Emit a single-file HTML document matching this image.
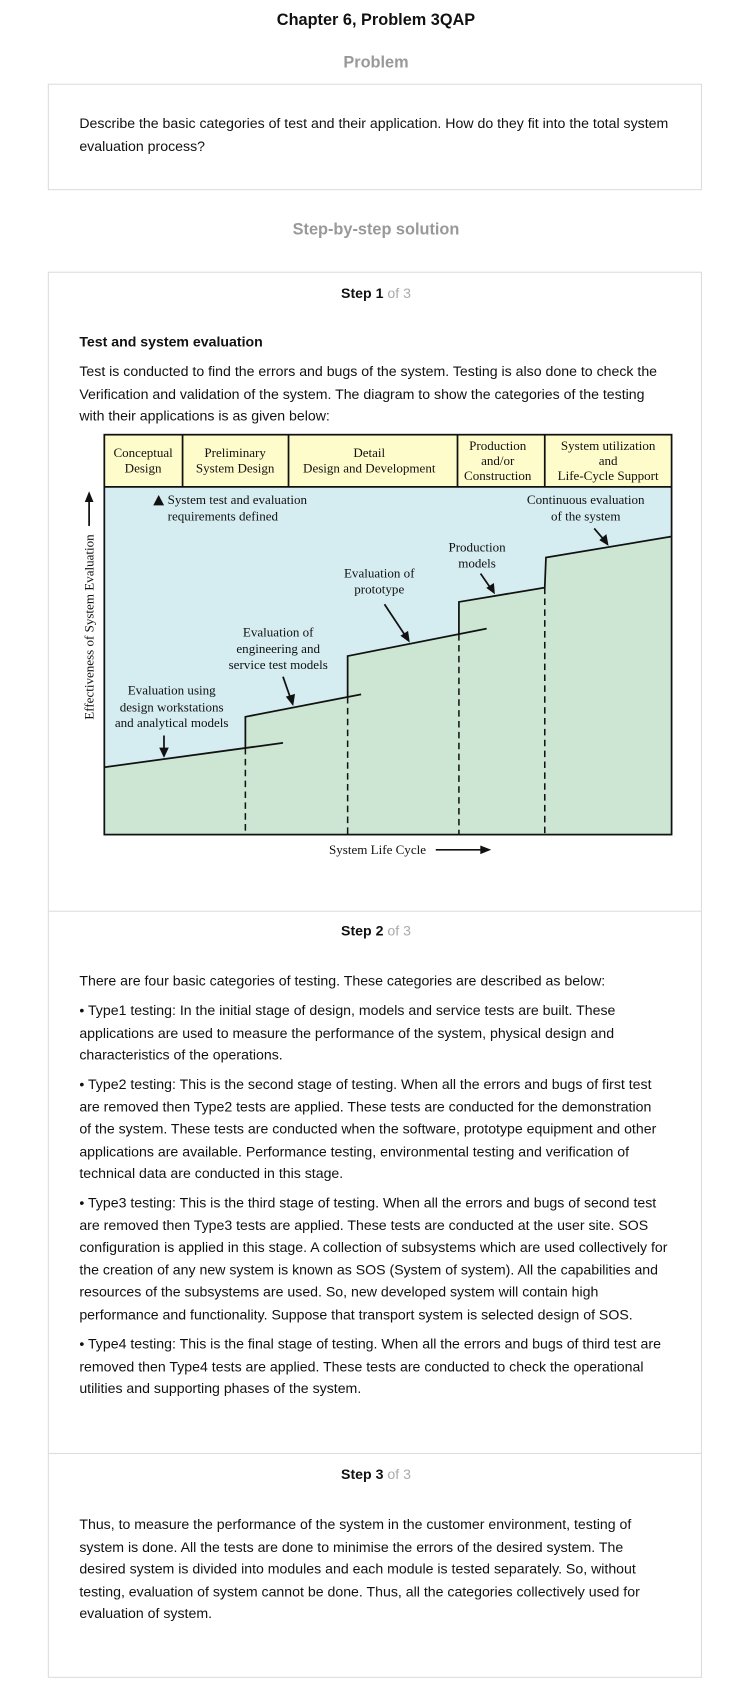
<!DOCTYPE html>
<html><head><meta charset="utf-8">
<style>
html,body{margin:0;padding:0;background:#fff;}
body{width:752px;height:1705px;overflow:hidden;}
#w{position:absolute;left:0;top:0;width:692px;height:1569px;transform:scale(1.08671);transform-origin:0 0;font-family:"Liberation Sans",sans-serif;color:#111;}
.a{position:absolute;white-space:nowrap;}
.c{text-align:center;left:0;width:692px;}
.box{position:absolute;border:1px solid #ddd;box-sizing:border-box;}
.t{font-size:13px;line-height:20.5px;left:73px;}
.hr{position:absolute;left:44px;width:602px;height:1px;background:#ddd;}
.g{color:#aaa;font-weight:normal;}
</style></head><body><div id="w">
<div class="a c" style="top:10px;font-size:15px;font-weight:bold;">Chapter 6, Problem 3QAP</div>
<div class="a c" style="top:49px;font-size:15px;font-weight:bold;color:#999;">Problem</div>
<div class="box" style="left:44px;top:77px;width:602px;height:98px;"></div>
<div class="a t" style="top:103px;line-height:21px;">Describe the basic categories of test and their application. How do they fit into the total system<br>evaluation process?</div>
<div class="a c" style="top:203px;font-size:15px;font-weight:bold;color:#999;">Step-by-step solution</div>
<div class="box" style="left:44px;top:250px;width:602px;height:1294px;"></div>
<div class="hr" style="top:838px;"></div>
<div class="hr" style="top:1337px;"></div>
<div class="a c" style="top:262px;font-size:13px;font-weight:bold;">Step 1 <span class="g">of 3</span></div>
<div class="a t" style="top:305px;font-weight:bold;">Test and system evaluation</div>
<div class="a t" style="top:332px;">Test is conducted to find the errors and bugs of the system. Testing is also done to check the<br>Verification and validation of the system. The diagram to show the categories of the testing<br>with their applications is as given below:</div>

<svg class="a" style="left:0;top:0;" width="692" height="820" viewBox="0 0 692 820" font-family="Liberation Serif, serif" font-size="12" fill="#111">
<rect x="96" y="400" width="522" height="48" fill="#fffccc"/>
<rect x="96" y="448" width="522" height="320" fill="#d5ecf0"/>
<polygon points="96,768 96,706 225.8,688.3 225.8,659.6 319.9,641.4 319.9,603.7 422.3,583.5 422.3,553.9 501.3,540.7 502.4,513 618,493.7 618,768" fill="#cde6d4"/>
<g stroke="#111" stroke-width="1.6" fill="none">
<rect x="96" y="400" width="522" height="368"/>
<line x1="96" y1="448" x2="618" y2="448"/>
<line x1="168" y1="400" x2="168" y2="448"/>
<line x1="265.5" y1="400" x2="265.5" y2="448"/>
<line x1="421" y1="400" x2="421" y2="448"/>
<line x1="501.3" y1="400" x2="501.3" y2="448"/>
<line x1="96" y1="706" x2="260.4" y2="683.6"/>
<polyline points="225.8,688.3 225.8,659.6 332.3,639"/>
<polyline points="319.9,641.4 319.9,603.7 447.8,578.5"/>
<polyline points="422.3,583.5 422.3,553.9 501.3,540.7 502.4,513 618,493.7"/>
<g stroke-dasharray="6,4" stroke-width="1.4">
<line x1="225.8" y1="688.3" x2="225.8" y2="768"/>
<line x1="319.9" y1="641.4" x2="319.9" y2="768"/>
<line x1="422.3" y1="583.5" x2="422.3" y2="768"/>
<line x1="501.3" y1="540.7" x2="501.3" y2="768"/>
</g>
<line x1="150.9" y1="676.8" x2="150.9" y2="690"/>
<line x1="260.4" y1="622.7" x2="267.5" y2="643"/>
<line x1="353.8" y1="556" x2="373" y2="585"/>
<line x1="442.2" y1="527.8" x2="452" y2="542"/>
<line x1="546.8" y1="486.3" x2="556" y2="497"/>
<line x1="82" y1="484" x2="82" y2="460"/>
<line x1="401" y1="782" x2="444" y2="782"/>
</g>
<g fill="#111">
<polygon points="150.9,697.4 146.5,688 155.3,688"/>
<polygon points="269.8,649.7 263,641 271.5,638.5"/>
<polygon points="377.1,591.4 368.5,585 375.5,580.5"/>
<polygon points="455.4,546.8 447.5,541 454.5,536.5"/>
<polygon points="560,502.3 551.5,497 558,491.5"/>
<polygon points="82,452 78,462 86,462"/>
<polygon points="452,782 442,778 442,786"/>
<polygon points="141,465 151,465 146,455.5"/>
</g>
<g text-anchor="middle">
<text x="131.7" y="420.6">Conceptual</text><text x="131.7" y="434.7">Design</text>
<text x="216.4" y="420.6">Preliminary</text><text x="216.4" y="434.7">System Design</text>
<text x="339.8" y="420.6">Detail</text><text x="339.8" y="434.7">Design and Development</text>
<text x="458" y="414">Production</text><text x="458" y="428">and/or</text><text x="458" y="441.8">Construction</text>
<text x="559.6" y="414">System utilization</text><text x="559.6" y="428">and</text><text x="559.6" y="441.8">Life-Cycle Support</text>
<text x="539" y="464">Continuous evaluation</text><text x="539" y="479">of the system</text>
<text x="439" y="507.5">Production</text><text x="439" y="522.3">models</text>
<text x="349" y="531.5">Evaluation of</text><text x="349" y="546">prototype</text>
<text x="256" y="585.6">Evaluation of</text><text x="256" y="601">engineering and</text><text x="256" y="615.7">service test models</text>
<text x="158" y="639">Evaluation using</text><text x="158" y="654.5">design workstations</text><text x="158" y="669">and analytical models</text>
<text x="347.4" y="785.8">System Life Cycle</text>
<text transform="translate(86,577) rotate(-90)">Effectiveness of System Evaluation</text>
</g>
<text x="154.3" y="464">System test and evaluation</text>
<text x="154.3" y="479">requirements defined</text>
</svg>

<div class="a c" style="top:849px;font-size:13px;font-weight:bold;">Step 2 <span class="g">of 3</span></div>
<div class="a t" style="top:893px;">There are four basic categories of testing. These categories are described as below:</div>
<div class="a t" style="top:920px;">• Type1 testing: In the initial stage of design, models and service tests are built. These<br>applications are used to measure the performance of the system, physical design and<br>characteristics of the operations.</div>
<div class="a t" style="top:988px;">• Type2 testing: This is the second stage of testing. When all the errors and bugs of first test<br>are removed then Type2 tests are applied. These tests are conducted for the demonstration<br>of the system. These tests are conducted when the software, prototype equipment and other<br>applications are available. Performance testing, environmental testing and verification of<br>technical data are conducted in this stage.</div>
<div class="a t" style="top:1097px;">• Type3 testing: This is the third stage of testing. When all the errors and bugs of second test<br>are removed then Type3 tests are applied. These tests are conducted at the user site. SOS<br>configuration is applied in this stage. A collection of subsystems which are used collectively for<br>the creation of any new system is known as SOS (System of system). All the capabilities and<br>resources of the subsystems are used. So, new developed system will contain high<br>performance and functionality. Suppose that transport system is selected design of SOS.</div>
<div class="a t" style="top:1227px;">• Type4 testing: This is the final stage of testing. When all the errors and bugs of third test are<br>removed then Type4 tests are applied. These tests are conducted to check the operational<br>utilities and supporting phases of the system.</div>
<div class="a c" style="top:1349px;font-size:13px;font-weight:bold;">Step 3 <span class="g">of 3</span></div>
<div class="a t" style="top:1393px;">Thus, to measure the performance of the system in the customer environment, testing of<br>system is done. All the tests are done to minimise the errors of the desired system. The<br>desired system is divided into modules and each module is tested separately. So, without<br>testing, evaluation of system cannot be done. Thus, all the categories collectively used for<br>evaluation of system.</div>
</div></body></html>
